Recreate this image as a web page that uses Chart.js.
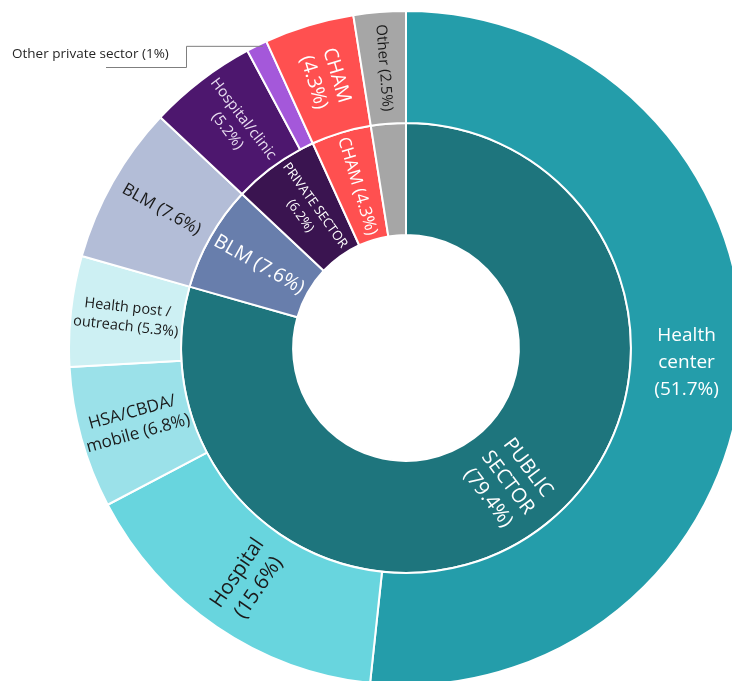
<!DOCTYPE html>
<html>
<head>
<meta charset="utf-8">
<script src="https://cdn.jsdelivr.net/npm/chart.js@4"></script>
<style>
  html, body { margin: 0; padding: 0; width: 732px; height: 681px; overflow: hidden; background: #fff; }
  #wrap { position: absolute; left: 68px; top: 10px; width: 676px; height: 676px; }
  #callout { position: absolute; left: 12px; top: 44px; font: 13.5px 'Open Sans', 'Noto Sans', sans-serif; color: #262626; white-space: nowrap; }
</style>
</head>
<body>
<div id="wrap"><canvas id="c" width="676" height="676"></canvas></div>
<div id="callout"></div>
<script>
// ---- data ----
const outerCategories = ["Health center", "Hospital", "HSA/CBDA/mobile", "Health post / outreach", "BLM", "Hospital/clinic", "Other private sector", "CHAM", "Other"];
const outerValues = [51.7, 15.6, 6.8, 5.3, 7.6, 5.2, 1.0, 4.3, 2.5];
const outerLabels = [
  ["Health", "center", "(51.7%)"],
  ["Hospital", "(15.6%)"],
  ["HSA/CBDA/", "mobile (6.8%)"],
  ["Health post /", "outreach (5.3%)"],
  ["BLM (7.6%)"],
  ["Hospital/clinic", "(5.2%)"],
  [],
  ["CHAM", "(4.3%)"],
  ["Other (2.5%)"]
];
const innerCategories = ["PUBLIC SECTOR", "BLM", "PRIVATE SECTOR", "CHAM", "Other"];
const innerValues = [79.4, 7.6, 6.2, 4.3, 2.5];
const innerLabels = [
  ["PUBLIC", "SECTOR", "(79.4%)"],
  ["BLM (7.6%)"],
  ["PRIVATE SECTOR", "(6.2%)"],
  ["CHAM (4.3%)"],
  []
];
const calloutText = "Other private sector (1%)";

// ---- styles ----
const outerColors = ["#249DAA", "#68D5DE", "#9BE1E9", "#CDF0F3", "#B3BDD7", "#4D176E", "#A458DA", "#FF5050", "#A6A6A6"];
const innerColors = ["#1E757D", "#687EAC", "#3A1450", "#FF5050", "#A6A6A6"];
const outerLabelStyle = [
  {size: 19, color: "#ffffff", horizontal: true, lh: 27},
  {size: 20.5, color: "#1a1a1a", lh: 26},
  {size: 17, color: "#1a1a1a", lh: 22},
  {size: 14.5, color: "#1a1a1a", lh: 19},
  {size: 17, color: "#1a1a1a", lh: 22},
  {size: 15, color: "#eadff2", lh: 20},
  {size: 12, color: "#fff", lh: 16},
  {size: 19.5, color: "#ffffff", lh: 24},
  {size: 15, color: "#1a1a1a", lh: 19}
];
const innerLabelStyle = [
  {size: 20, color: "#ffffff", lh: 25},
  {size: 19.5, color: "#ffffff", lh: 24},
  {size: 13, color: "#ffffff", lh: 18},
  {size: 17, color: "#ffffff", lh: 21},
  {size: 12, color: "#ffffff", lh: 16}
];
const FONT = '"Open Sans", "Noto Sans", sans-serif';

const labelPlugin = {
  id: 'sliceLabels',
  afterDatasetsDraw(chart) {
    const ctx = chart.ctx;
    const sets = [[outerLabels, outerLabelStyle], [innerLabels, innerLabelStyle]];
    sets.forEach(([labels, styles], di) => {
      const meta = chart.getDatasetMeta(di);
      meta.data.forEach((arc, i) => {
        const lines = labels[i];
        if (!lines || !lines.length) return;
        const p = arc.getProps(['x', 'y', 'startAngle', 'endAngle', 'innerRadius', 'outerRadius'], true);
        const mid = (p.startAngle + p.endAngle) / 2;
        const r = (p.innerRadius + p.outerRadius) / 2;
        const x = p.x + r * Math.cos(mid);
        const y = p.y + r * Math.sin(mid);
        const st = styles[i];
        let rot = mid;
        if (Math.cos(mid) < 0) rot = mid + Math.PI;
        if (st.horizontal) rot = 0;
        ctx.save();
        ctx.translate(x, y);
        ctx.rotate(rot);
        ctx.font = st.size + 'px ' + FONT;
        ctx.fillStyle = st.color;
        ctx.textAlign = 'center';
        ctx.textBaseline = 'middle';
        const n = lines.length;
        lines.forEach((t, k) => {
          ctx.fillText(t, 0, (k - (n - 1) / 2) * st.lh);
        });
        ctx.restore();
      });
    });
    // leader line for the tiny "Other private sector" slice
    const meta0 = chart.getDatasetMeta(0);
    const idx = outerCategories.indexOf("Other private sector");
    const a = meta0.data[idx].getProps(['x', 'y', 'startAngle', 'endAngle', 'outerRadius'], true);
    const m = (a.startAngle + a.endAngle) / 2;
    const ax = a.x + a.outerRadius * Math.cos(m);
    const ay = a.y + a.outerRadius * Math.sin(m);
    const elbowX = 186 - 68, lowY = 67 - 10, endX = 106 - 68;
    ctx.save();
    ctx.strokeStyle = '#7f7f7f';
    ctx.lineWidth = 1;
    ctx.beginPath();
    ctx.moveTo(ax + 6, ay + 0.5);
    ctx.lineTo(elbowX + 0.5, ay + 0.5);
    ctx.lineTo(elbowX + 0.5, lowY + 0.5);
    ctx.lineTo(endX, lowY + 0.5);
    ctx.stroke();
    ctx.restore();
  }
};

new Chart(document.getElementById('c'), {
  type: 'doughnut',
  data: {
    labels: outerCategories,
    datasets: [
      { data: outerValues, backgroundColor: outerColors, borderColor: '#ffffff', borderWidth: 2, hoverOffset: 0 },
      { data: innerValues, backgroundColor: innerColors, borderColor: '#ffffff', borderWidth: 2, hoverOffset: 0 }
    ]
  },
  options: {
    responsive: false,
    animation: false,
    cutout: '33.5%',
    rotation: 0,
    layout: { padding: 0 },
    plugins: { legend: { display: false }, tooltip: { enabled: false } },
    events: []
  },
  plugins: [labelPlugin]
});
document.getElementById('callout').textContent = calloutText;
</script>
</body>
</html>
